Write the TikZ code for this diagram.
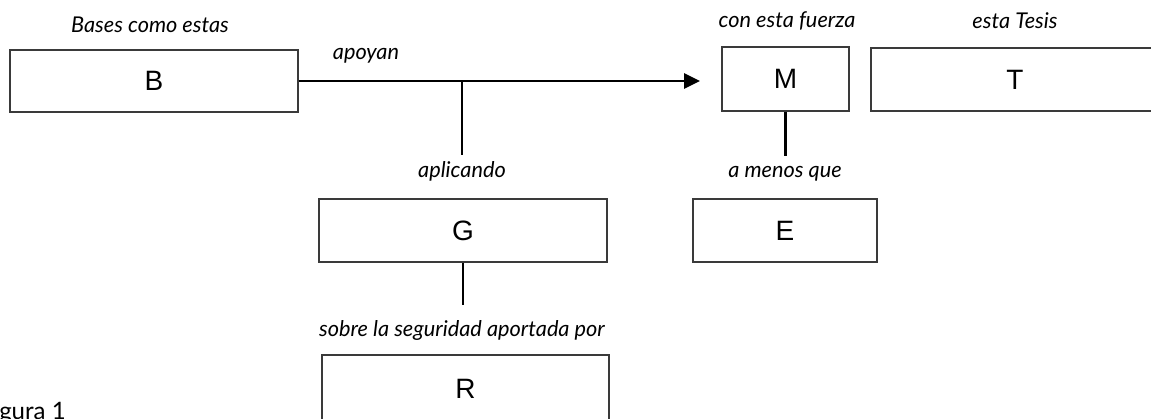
\documentclass[tikz,border=0pt]{standalone}
\usepackage{fontspec}
\setmainfont{Lato}
\newfontfamily\boxfont{Liberation Sans}
\usetikzlibrary{arrows.meta}
\newlength\pxl
\setlength\pxl{0.75pt}
\definecolor{boxgrey}{HTML}{3A3A3A}
\begin{document}
\begin{tikzpicture}[x=0.75pt,y=-0.75pt,
  box/.style={draw=boxgrey, line width=1.1pt, inner sep=0pt, fill=white,
    font=\boxfont\fontsize{21}{24}\selectfont},
  lab/.style={anchor=base, inner sep=0pt, font=\itshape\fontsize{16.3}{19}\selectfont},
  conn/.style={draw=black, line width=2.2pt},
  arr/.style={-{Triangle[length=12pt,width=11.25pt]}}]
\useasboundingbox (0,0) rectangle (1151,418);
% boxes
\node[box, minimum width=288\pxl, minimum height=62\pxl] (B) at (154,81) {B};
\node[box, minimum width=127\pxl, minimum height=64\pxl] (M) at (785.5,79) {M};
\node[box, minimum width=288\pxl, minimum height=63\pxl] (T) at (1015,79.5) {T};
\node[box, minimum width=288\pxl, minimum height=63\pxl] (G) at (463,230.5) {G};
\node[box, minimum width=184\pxl, minimum height=63\pxl] (E) at (785,230.5) {E};
\node[box, minimum width=287\pxl, minimum height=68\pxl] (R) at (465.5,389) {R};
% connector points
\coordinate (tip) at (700,81);
\coordinate (j) at (462,81);
\coordinate (jG) at (462,155);
\coordinate (gEnd) at (463,305);
\coordinate (mEnd) at (785.5,156);
% connectors
\draw[conn,arr] (B.east) -- (tip);
\draw[conn] (j) -- (jG);
\draw[conn] (G.south) -- (gEnd);
\draw[conn] (M.south) -- (mEnd);
% labels
\node[lab] (lB) at (150,32) {Bases como estas};
\node[lab] (lap) at (366,59) {apoyan};
\node[lab] (lM) at (787,27) {con esta fuerza};
\node[lab] (lT) at (1015,28) {esta Tesis};
\node[lab] (lG) at (462,177) {aplicando};
\node[lab] (lE) at (785,177) {a menos que};
\node[lab] (lR) at (462,336) {sobre la seguridad aportada por};
\node[anchor=base west, inner sep=0pt, font=\fontsize{18}{21}\selectfont] (fig) at (-1,419) {gura 1};
\end{tikzpicture}
\end{document}
